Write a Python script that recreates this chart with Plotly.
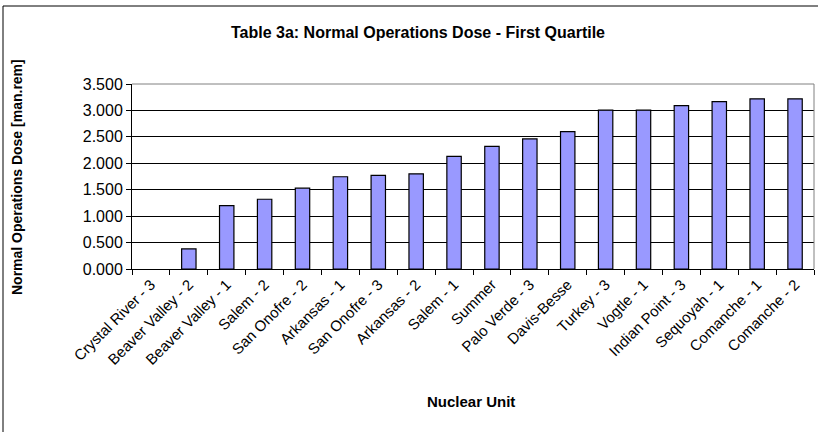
import plotly.graph_objects as go

units = ["Crystal River - 3", "Beaver Valley - 2", "Beaver Valley - 1", "Salem - 2",
         "San Onofre - 2", "Arkansas - 1", "San Onofre - 3", "Arkansas - 2", "Salem - 1",
         "Summer", "Palo Verde - 3", "Davis-Besse", "Turkey - 3", "Vogtle - 1",
         "Indian Point - 3", "Sequoyah - 1", "Comanche - 1", "Comanche - 2"]
dose = [None, 0.38, 1.20, 1.32, 1.53, 1.745, 1.77, 1.80, 2.13,
        2.32, 2.46, 2.60, 3.005, 3.005, 3.09, 3.165, 3.22, 3.22]
y_ticks = [0, 0.5, 1.0, 1.5, 2.0, 2.5, 3.0, 3.5]
y_tick_text = ["0.000", "0.500", "1.000", "1.500", "2.000", "2.500", "3.000", "3.500"]

W, H = 818, 432
L, R, T, B = 132, 4, 84, 163
pw, ph = W - L - R, H - T - B

fig = go.Figure(go.Bar(
    x=units, y=dose, width=0.38,
    marker=dict(color="#9999FF", line=dict(color="#000000", width=1.2)),
))

def px_x(p):
    return (p - L) / pw

def px_y(p):
    return (H - B - p) / ph

fig.update_layout(
    width=W, height=H,
    margin=dict(l=L, r=R, t=T, b=B),
    paper_bgcolor="white", plot_bgcolor="white",
    font=dict(family="Liberation Sans, Arial, sans-serif", size=14, color="black"),
    showlegend=False,
    shapes=[
        dict(type="rect", xref="paper", yref="paper",
             x0=px_x(3), x1=px_x(822), y0=px_y(436), y1=px_y(6),
             line=dict(color="black", width=1), fillcolor="rgba(0,0,0,0)", layer="below"),
        dict(type="line", xref="paper", yref="paper", x0=0, x1=1, y0=1, y1=1,
             line=dict(color="#808080", width=1)),
        dict(type="line", xref="paper", yref="paper", x0=1, x1=1, y0=0, y1=1,
             line=dict(color="#808080", width=1)),
    ],
    annotations=[
        dict(text="<b>Table 3a: Normal Operations Dose - First Quartile</b>",
             xref="paper", yref="paper", x=px_x(418), y=px_y(32),
             showarrow=False, font=dict(size=16), xanchor="center", yanchor="middle"),
        dict(text="<b>Normal Operations Dose [man.rem]</b>",
             xref="paper", yref="paper", x=px_x(17), y=px_y(177),
             showarrow=False, textangle=-90, font=dict(size=14),
             xanchor="center", yanchor="middle"),
        dict(text="<b>Nuclear Unit</b>",
             xref="paper", yref="paper", x=px_x(471), y=px_y(401),
             showarrow=False, font=dict(size=15), xanchor="center", yanchor="middle"),
    ],
)

fig.update_xaxes(
    type="category", tickangle=-45, showline=True, linecolor="black", linewidth=1,
    ticks="outside", ticklen=5, tickcolor="black", tickson="boundaries",
    showgrid=False, tickfont=dict(size=15), range=[-0.5, len(units) - 0.5],
)
fig.update_yaxes(
    range=[0, 3.5], tickvals=y_ticks, ticktext=y_tick_text,
    showline=True, linecolor="black", linewidth=1,
    ticks="outside", ticklen=5, tickcolor="black",
    showgrid=True, gridcolor="black", gridwidth=1, zeroline=False,
    tickfont=dict(size=16),
)

fig.write_html("out.html", config={"displayModeBar": False},
               post_script="document.body.style.margin='0';document.body.style.overflow='hidden';")
